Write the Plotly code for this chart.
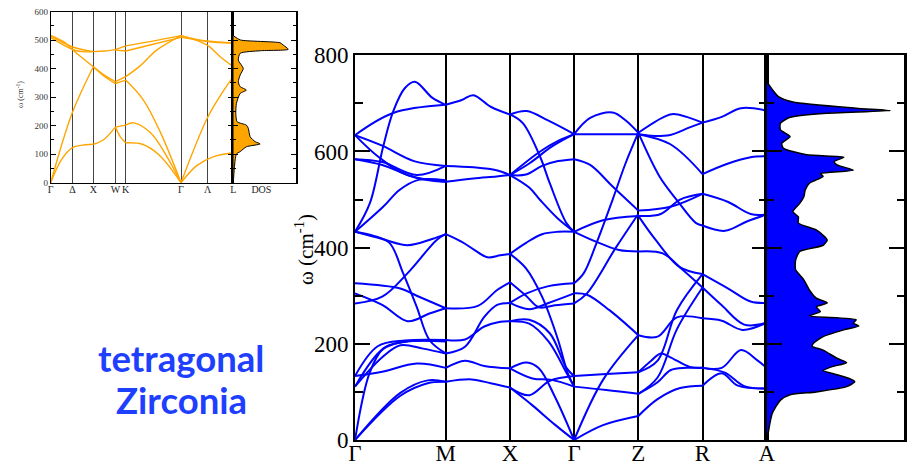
import plotly.graph_objects as go

# ---------------- main panel data (tetragonal ZrO2) ----------------
main_labels = ["Γ", "M", "X", "Γ", "Z", "R", "A"]
main_kpos = [0, 1.414, 2.414, 3.414, 4.414, 5.414, 6.414]

# each branch: (fraction along segment, frequency cm^-1)
seg_GM = [
    [(0, 634), (0.42, 680), (1, 697)],
    [(0, 433), (0.165, 493), (0.31, 610), (0.42, 683), (0.55, 732), (0.66, 745), (0.85, 712), (1, 697)],
    [(0, 634), (0.3, 612), (0.65, 580), (1, 570)],
    [(0, 634), (0.25, 590), (0.55, 553), (1, 537)],
    [(0, 584), (0.3, 578), (0.68, 551), (1, 570)],
    [(0, 584), (0.3, 572), (0.68, 545), (1, 537)],
    [(0, 433), (0.31, 485), (0.49, 520), (0.7, 541), (1, 540)],
    [(0, 433), (0.3, 418), (0.58, 405), (0.85, 418), (1, 428)],
    [(0, 433), (0.2, 425), (0.38, 410), (0.53, 347), (0.68, 277), (0.82, 208), (1, 180)],
    [(0, 284), (0.3, 298), (0.58, 347), (0.9, 416), (1, 428)],
    [(0, 326), (0.5, 315), (0.68, 300), (1, 274)],
    [(0, 305), (0.3, 281), (0.58, 247), (0.82, 263), (1, 274)],
    [(0, 133), (0.25, 195), (0.55, 207), (1, 208)],
    [(0, 111), (0.3, 188), (0.55, 204), (1, 205)],
    [(0, 111), (0.3, 172), (0.5, 197), (0.75, 190), (1, 180)],
    [(0, 133), (0.3, 142), (0.68, 159), (1, 150)],
    [(0, 0), (0.16, 139), (0.31, 190), (0.5, 203), (1, 208)],
    [(0, 0), (0.5, 98), (0.8, 124), (1, 121)],
    [(0, 0), (0.5, 92), (0.8, 118), (1, 121)],
]
seg_MX = [
    [(0, 697), (0.25, 707), (0.43, 717), (0.7, 693), (1, 677)],
    [(0, 570), (0.43, 567), (0.79, 561), (1, 551)],
    [(0, 537), (0.43, 544), (0.79, 548), (1, 551)],
    [(0, 428), (0.25, 412), (0.45, 395), (0.65, 380), (0.85, 384), (1, 387)],
    [(0, 274), (0.5, 279), (0.8, 312), (1, 328)],
    [(0, 180), (0.3, 194), (0.6, 256), (0.8, 281), (1, 285)],
    [(0, 208), (0.3, 209), (0.6, 236), (0.85, 246), (1, 247)],
    [(0, 150), (0.3, 165), (0.6, 154), (1, 149)],
    [(0, 121), (0.4, 126), (0.7, 118), (1, 109)],
]
seg_XG = [
    [(0, 677), (0.26, 684), (0.6, 664), (1, 636)],
    [(0, 677), (0.2, 659), (0.47, 589), (0.62, 534), (0.88, 451), (1, 433)],
    [(0, 551), (0.47, 600), (0.75, 622), (1, 636)],
    [(0, 551), (0.3, 575), (0.65, 610), (1, 636)],
    [(0, 551), (0.25, 552), (0.5, 570), (0.75, 580), (1, 584)],
    [(0, 551), (0.3, 525), (0.47, 499), (0.75, 460), (1, 433)],
    [(0, 387), (0.25, 410), (0.5, 428), (0.75, 433), (1, 433)],
    [(0, 387), (0.25, 357), (0.5, 298), (0.75, 208), (0.9, 139), (1, 111)],
    [(0, 328), (0.25, 300), (0.45, 276), (0.7, 280), (1, 284)],
    [(0, 285), (0.26, 305), (0.6, 320), (1, 326)],
    [(0, 285), (0.3, 272), (0.6, 285), (1, 305)],
    [(0, 247), (0.3, 250), (0.62, 222), (0.88, 150), (1, 133)],
    [(0, 247), (0.3, 242), (0.6, 205), (0.88, 140), (1, 111)],
    [(0, 149), (0.26, 161), (0.45, 149), (0.7, 90), (1, 0)],
    [(0, 109), (0.3, 93), (0.62, 123), (1, 133)],
    [(0, 149), (0.35, 128), (0.65, 125), (1, 111)],
    [(0, 109), (0.35, 72), (0.7, 32), (1, 0)],
]
seg_GZ = [
    [(0, 636), (0.25, 670), (0.6, 681), (0.8, 665), (1, 639)],
    [(0, 636), (0.5, 636), (1, 636)],
    [(0, 584), (0.25, 572), (0.6, 527), (1, 477)],
    [(0, 433), (0.45, 457), (1, 466)],
    [(0, 433), (0.35, 412), (0.7, 395), (1, 392)],
    [(0, 326), (0.15, 347), (0.35, 410), (0.6, 500), (0.8, 575), (1, 639)],
    [(0, 284), (0.2, 305), (0.65, 400), (1, 470)],
    [(0, 305), (0.2, 302), (0.55, 270), (1, 218)],
    [(0, 0), (0.45, 125), (1, 218)],
    [(0, 133), (0.5, 137), (1, 141)],
    [(0, 111), (0.5, 104), (1, 96)],
    [(0, 0), (0.45, 31), (1, 50)],
]
seg_ZR = [
    [(0, 639), (0.4, 672), (0.55, 678), (1, 660)],
    [(0, 636), (0.45, 633), (0.8, 650), (1, 660)],
    [(0, 636), (0.5, 615), (1, 553)],
    [(0, 639), (0.33, 548), (0.6, 499), (0.9, 451), (1, 446)],
    [(0, 477), (0.5, 485), (1, 512)],
    [(0, 466), (0.35, 470), (0.65, 500), (1, 512)],
    [(0, 466), (0.27, 416), (0.64, 360), (1, 345)],
    [(0, 392), (0.38, 388), (0.69, 354), (1, 317)],
    [(0, 218), (0.3, 215), (0.6, 255), (1, 253)],
    [(0, 141), (0.3, 165), (0.6, 270), (1, 345)],
    [(0, 96), (0.3, 130), (0.6, 230), (1, 317)],
    [(0, 141), (0.2, 165), (0.35, 180), (0.5, 172), (0.8, 152), (1, 150)],
    [(0, 96), (0.3, 120), (0.5, 145), (0.75, 150), (1, 150)],
    [(0, 50), (0.3, 85), (0.65, 108), (1, 113)],
]
seg_RA = [
    [(0, 660), (0.3, 672), (0.6, 690), (1, 685)],
    [(0, 553), (0.4, 575), (0.75, 588), (1, 590)],
    [(0, 512), (0.4, 495), (0.75, 470), (1, 469)],
    [(0, 446), (0.35, 435), (0.7, 455), (1, 469)],
    [(0, 345), (0.4, 315), (0.75, 288), (1, 285)],
    [(0, 317), (0.3, 280), (0.65, 240), (1, 244)],
    [(0, 253), (0.3, 248), (0.62, 229), (1, 244)],
    [(0, 150), (0.3, 150), (0.6, 187), (0.85, 166), (1, 150)],
    [(0, 150), (0.35, 140), (0.65, 112), (1, 107)],
    [(0, 113), (0.3, 139), (0.55, 113), (1, 107)],
]
main_segments = [seg_GM, seg_MX, seg_XG, seg_GZ, seg_ZR, seg_RA]

# main DOS: frequency, density (arb.)
dos_freq = [0, 14, 55, 83, 94, 100, 111, 121, 128, 139, 144, 152, 161, 170, 187, 195, 201,
            215, 229, 237, 243, 250, 258, 267, 277, 285, 295, 312, 333, 354, 374, 392, 405,
            416, 423, 437, 451, 464, 475, 492, 506, 520, 534, 548, 554, 561, 572, 579, 588,
            593, 607, 617, 631, 645, 659, 671, 679, 685, 690, 703, 714, 745]
dos_val = [0, 0.01, 0.04, 0.10, 0.17, 0.36, 0.58, 0.64, 0.60, 0.47, 0.41, 0.47, 0.58, 0.51,
           0.41, 0.33, 0.34, 0.41, 0.56, 0.67, 0.63, 0.65, 0.31, 0.39, 0.36, 0.44, 0.36, 0.31,
           0.27, 0.21, 0.21, 0.24, 0.41, 0.44, 0.42, 0.36, 0.23, 0.23, 0.19, 0.24, 0.27, 0.28,
           0.31, 0.41, 0.39, 0.63, 0.51, 0.49, 0.56, 0.29, 0.12, 0.11, 0.17, 0.10, 0.10, 0.17,
           0.41, 0.90, 0.65, 0.19, 0.085, 0]

# ---------------- inset data (cubic ZrO2) ----------------
inset_tick_labels = ["Γ", "Δ", "X", "W", "K", "Γ", "Λ", "L"]
inset_tick_pos = [0, 0.508, 1.0, 1.516, 1.758, 3.055, 3.680, 4.281]
inset_kpos = [0, 1.0, 1.516, 1.758, 3.055, 4.281]

iseg_GX = [
    [(0, 0), (0.25, 80), (0.5, 122), (0.75, 132), (1, 135)],
    [(0, 0), (0.5, 243), (1, 407)],
    [(0, 516), (0.5, 477), (1, 460)],
    [(0, 510), (0.6, 463), (1, 460)],
    [(0, 516), (0.3, 495), (0.6, 455), (1, 407)],
]
iseg_XW = [
    [(0, 135), (0.45, 150), (1, 195)],
    [(0, 407), (0.55, 370), (1, 348)],
    [(0, 407), (0.55, 375), (1, 355)],
    [(0, 460), (0.5, 462), (1, 467)],
]
iseg_WK = [
    [(0, 195), (1, 202)],
    [(0, 195), (0.5, 160), (1, 140)],
    [(0, 348), (1, 360)],
    [(0, 355), (1, 372)],
    [(0, 467), (1, 480)],
    [(0, 465), (1, 462)],
]
iseg_KG = [
    [(0, 202), (0.15, 210), (0.45, 175), (0.75, 90), (1, 0)],
    [(0, 140), (0.3, 135), (0.6, 98), (1, 0)],
    [(0, 360), (0.32, 290), (0.62, 180), (1, 0)],
    [(0, 372), (0.26, 410), (0.56, 465), (1, 516)],
    [(0, 480), (0.44, 495), (1, 516)],
    [(0, 462), (0.44, 483), (1, 510)],
]
iseg_GL = [
    [(0, 0), (0.3, 60), (0.6, 90), (1, 105)],
    [(0, 0), (0.5, 226), (0.75, 305), (1, 372)],
    [(0, 516), (0.5, 495), (1, 490)],
    [(0, 510), (0.5, 497), (1, 490)],
    [(0, 516), (0.5, 483), (0.75, 442), (1, 407)],
]
inset_segments = [iseg_GX, iseg_XW, iseg_WK, iseg_KG, iseg_GL]

idos_freq = [0, 50, 80, 101, 109, 126, 136, 144, 161, 191, 202, 214, 243, 278, 313, 325,
             337, 354, 378, 401, 430, 454, 463, 468, 483, 491, 501, 516]
idos_val = [0, 0.016, 0.03, 0.05, 0.11, 0.21, 0.43, 0.35, 0.27, 0.24, 0.21, 0.06, 0.04,
            0.05, 0.11, 0.21, 0.11, 0.08, 0.11, 0.16, 0.08, 0.11, 0.43, 0.88, 0.80, 0.75,
            0.11, 0]


def build(segments, kpos):
    xs, ys = [], []
    for i, seg in enumerate(segments):
        k0, k1 = kpos[i], kpos[i + 1]
        for br in seg:
            for f, w in br:
                xs.append(k0 + f * (k1 - k0))
                ys.append(w)
            xs.append(None)
            ys.append(None)
    return xs, ys


W, H = 913, 465
def px(x):
    return x / W
def py(y):
    return 1 - y / H

SERIF = "Liberation Serif"
BLUE = "#0000ff"
ORANGE = "#ffa500"

fig = go.Figure()

mx, my = build(main_segments, main_kpos)
fig.add_trace(go.Scatter(x=mx, y=my, mode="lines", xaxis="x", yaxis="y",
                         line=dict(color=BLUE, width=2, shape="spline", smoothing=1.0),
                         connectgaps=False, hoverinfo="skip", showlegend=False))
fig.add_trace(go.Scatter(x=dos_val, y=dos_freq, mode="lines", xaxis="x2", yaxis="y2",
                         fill="tozerox", fillcolor=BLUE,
                         line=dict(color="black", width=1.5, shape="spline", smoothing=0.6),
                         hoverinfo="skip", showlegend=False))

ix, iy = build(inset_segments, inset_kpos)
fig.add_trace(go.Scatter(x=ix, y=iy, mode="lines", xaxis="x3", yaxis="y3",
                         line=dict(color=ORANGE, width=1.4, shape="spline", smoothing=1.0),
                         connectgaps=False, hoverinfo="skip", showlegend=False))
fig.add_trace(go.Scatter(x=idos_val, y=idos_freq, mode="lines", xaxis="x4", yaxis="y4",
                         fill="tozerox", fillcolor=ORANGE,
                         line=dict(color="black", width=1, shape="spline", smoothing=0.6),
                         hoverinfo="skip", showlegend=False))

main_ydom = [py(440), py(55.3)]
inset_ydom = [py(182.7), py(11.7)]

fig.update_layout(
    width=W, height=H, margin=dict(l=0, r=0, t=0, b=0, autoexpand=False),
    paper_bgcolor="white", plot_bgcolor="rgba(0,0,0,0)",
    xaxis=dict(domain=[px(355), px(766.7)], range=[0, main_kpos[-1]], anchor="y",
               automargin=False, tickangle=0, ticklabelstandoff=-9,
               tickmode="array", tickvals=main_kpos, ticktext=main_labels, ticks="",
               showgrid=True, gridcolor="black", gridwidth=1.5, zeroline=False,
               showline=True, linecolor="black", linewidth=2, mirror=True,
               tickfont=dict(family=SERIF, size=23, color="black")),
    yaxis=dict(domain=main_ydom, range=[0, 800], anchor="x", automargin=False,
               tickmode="array", tickvals=[0, 200, 400, 600, 800], ticks="inside",
               ticklen=15, tickwidth=2, tickcolor="black", mirror="ticks",
               showline=True, linecolor="black", linewidth=2, showgrid=False, zeroline=False,
               minor=dict(dtick=100, ticks="inside", ticklen=8, tickwidth=2, tickcolor="black"),
               tickfont=dict(family=SERIF, size=23, color="black")),
    xaxis2=dict(domain=[px(766.7), px(904.3)], range=[0, 1], anchor="y2", automargin=False,
                showticklabels=False, ticks="", showgrid=False, zeroline=False,
                showline=True, linecolor="black", linewidth=2, mirror=True),
    yaxis2=dict(domain=main_ydom, range=[0, 800], anchor="x2", matches="y", automargin=False,
                tickmode="array", tickvals=[0, 200, 400, 600, 800], ticks="inside",
                ticklen=16, tickwidth=2, tickcolor="black", mirror="ticks",
                showticklabels=False, showline=True, linecolor="black", linewidth=2.5,
                showgrid=False, zeroline=False,
                minor=dict(dtick=100, ticks="inside", ticklen=8, tickwidth=2, tickcolor="black")),
    xaxis3=dict(domain=[px(50.7), px(233.3)], range=[0, inset_kpos[-1]], anchor="y3",
                automargin=False, tickangle=0, ticklabelstandoff=-3,
                tickmode="array", tickvals=inset_tick_pos, ticktext=inset_tick_labels, ticks="",
                showgrid=True, gridcolor="#444", gridwidth=1.2, zeroline=False,
                showline=True, linecolor="black", linewidth=1, mirror=True,
                tickfont=dict(family=SERIF, size=10, color="#222")),
    yaxis3=dict(domain=inset_ydom, range=[0, 600], anchor="x3", automargin=False,
                tickmode="array", tickvals=[0, 100, 200, 300, 400, 500, 600], ticks="inside",
                ticklen=5, tickwidth=1, tickcolor="black", mirror="ticks",
                showline=True, linecolor="black", linewidth=1, showgrid=False, zeroline=False,
                minor=dict(dtick=50, ticks="inside", ticklen=3, tickwidth=1, tickcolor="black"),
                tickfont=dict(family=SERIF, size=9, color="#333")),
    xaxis4=dict(domain=[px(233.3), px(295.7)], range=[0, 1], anchor="y4", automargin=False,
                tickangle=0, ticklabelstandoff=-3,
                tickmode="array", tickvals=[0.45], ticktext=["DOS"], ticks="",
                showgrid=False, zeroline=False,
                showline=True, linecolor="black", linewidth=1, mirror=True,
                tickfont=dict(family=SERIF, size=10, color="#222")),
    yaxis4=dict(domain=inset_ydom, range=[0, 600], anchor="x4", matches="y3", automargin=False,
                tickmode="array", tickvals=[0, 100, 200, 300, 400, 500, 600], ticks="inside",
                ticklen=5, tickwidth=1, tickcolor="black", mirror="ticks",
                showticklabels=False, showline=True, linecolor="black", linewidth=2,
                showgrid=False, zeroline=False,
                minor=dict(dtick=50, ticks="inside", ticklen=3, tickwidth=1, tickcolor="black")),
)

fig.add_annotation(text="ω (cm<sup>-1</sup>)", xref="paper", yref="paper",
                   x=px(305), y=py(250), textangle=-90, showarrow=False,
                   font=dict(family=SERIF, size=21, color="black"),
                   xanchor="center", yanchor="middle")
fig.add_annotation(text="ω (cm<sup>-1</sup>)", xref="paper", yref="paper",
                   x=px(20), y=py(95), textangle=-90, showarrow=False,
                   font=dict(family=SERIF, size=8, color="#333"),
                   xanchor="center", yanchor="middle")
fig.add_annotation(text="<b>tetragonal</b>", xref="paper", yref="paper",
                   x=px(181), y=py(358), showarrow=False,
                   font=dict(family="Lato", size=36.5, color="#1f3fff"),
                   xanchor="center", yanchor="middle")
fig.add_annotation(text="<b>Zirconia</b>", xref="paper", yref="paper",
                   x=px(181), y=py(400), showarrow=False,
                   font=dict(family="Lato", size=36.5, color="#1f3fff"),
                   xanchor="center", yanchor="middle")

fig.write_html("out.html")
